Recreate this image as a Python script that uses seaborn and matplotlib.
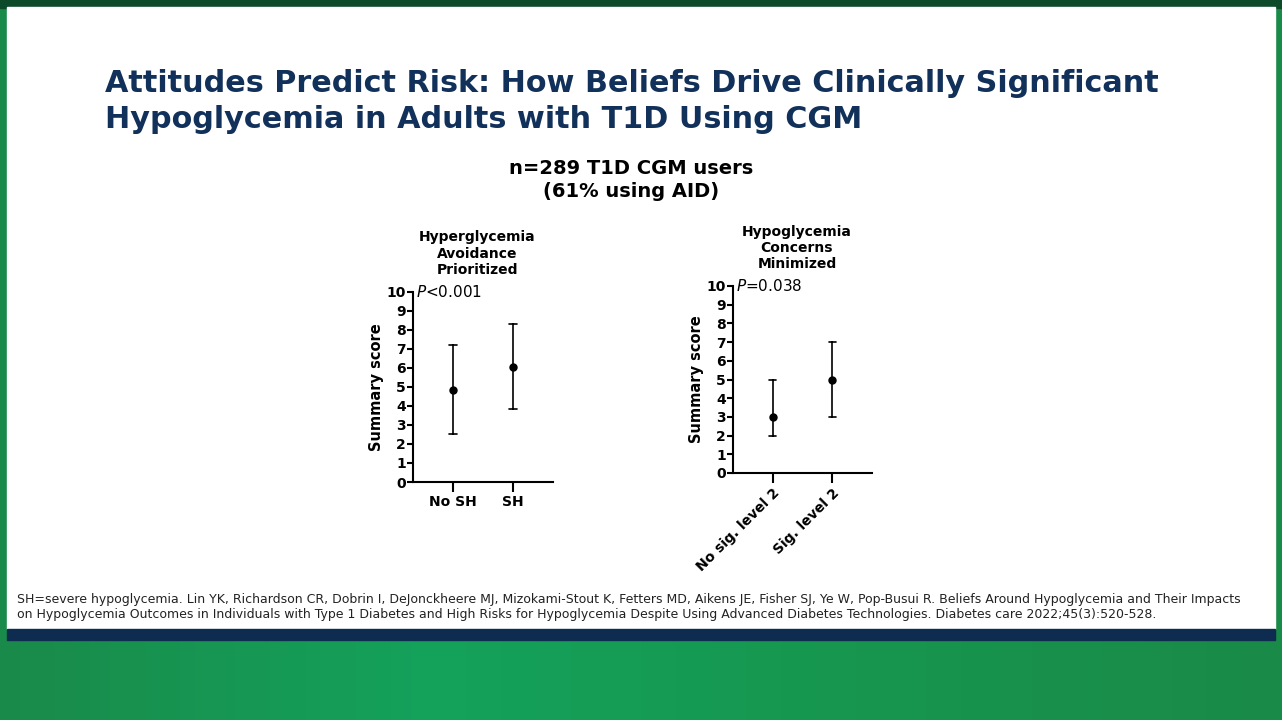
import numpy as np
import pandas as pd
import matplotlib.pyplot as plt
import seaborn as sns
from matplotlib.patches import Rectangle
from matplotlib.colors import LinearSegmentedColormap

# values: median point with min-max whiskers
left_groups = ["No SH", "SH"]
left_low = [2.55, 3.85]
left_mid = [4.85, 6.05]
left_high = [7.2, 8.3]

right_groups = ["No sig. level 2", "Sig. level 2"]
right_low = [2.0, 3.0]
right_mid = [3.0, 5.0]
right_high = [5.0, 7.0]

yticks = list(range(0, 11))

title = ("Attitudes Predict Risk: How Beliefs Drive Clinically Significant\n"
         "Hypoglycemia in Adults with T1D Using CGM")
subtitle = "n=289 T1D CGM users\n(61% using AID)"
footnote = ("SH=severe hypoglycemia. Lin YK, Richardson CR, Dobrin I, DeJonckheere MJ, Mizokami-Stout K, "
            "Fetters MD, Aikens JE, Fisher SJ, Ye W, Pop-Busui R. Beliefs Around Hypoglycemia and Their Impacts\n"
            "on Hypoglycemia Outcomes in Individuals with Type 1 Diabetes and High Risks for Hypoglycemia "
            "Despite Using Advanced Diabetes Technologies. Diabetes care 2022;45(3):520-528.")

sns.set_style("white")
plt.rcParams['font.family'] = ['DejaVu Sans']
plt.rcParams['text.color'] = 'black'
plt.rcParams['xtick.color'] = 'black'
plt.rcParams['ytick.color'] = 'black'
plt.rcParams['axes.labelcolor'] = 'black'

NAVY = "#11305a"


def long_df(groups, low, mid, high):
    scores = np.column_stack([low, mid, high]).ravel()
    return pd.DataFrame({"group": np.repeat(groups, 3), "score": scores})


fig = plt.figure(figsize=(12.82, 7.2), dpi=100)

# slide background
bg = fig.add_axes([0, 0, 1, 1], zorder=-5)
grad = LinearSegmentedColormap.from_list("g", ["#1a8a4a", "#14a25b", "#17964f", "#1a8a48"])
bg.imshow(np.linspace(0, 1, 256)[None, :], aspect="auto", cmap=grad,
          extent=[0, 1, 0, 1], transform=bg.transAxes)
bg.add_patch(Rectangle((0, 1 - 8 / 720), 1, 8 / 720, color="#0d4a2a", transform=bg.transAxes))
bg.add_patch(Rectangle((7 / 1282, 1 - 629 / 720), 1268 / 1282, 622 / 720,
                       color="white", transform=bg.transAxes))
bg.add_patch(Rectangle((7 / 1282, 1 - 640 / 720), 1268 / 1282, 11 / 720,
                       color="#0e2c4f", transform=bg.transAxes))
bg.set_xlim(0, 1)
bg.set_ylim(0, 1)
bg.axis("off")

fig.text(105 / 1282, 1 - 69 / 720, title, ha="left", va="top", fontsize=21.8,
         fontweight="bold", color=NAVY, linespacing=1.3)
fig.text(631 / 1282, 1 - 180 / 720, subtitle, ha="center", va="center", fontsize=14,
         fontweight="bold", color="black", linespacing=1.3)
fig.text(17 / 1282, 1 - 607 / 720, footnote, ha="left", va="center", fontsize=9,
         color="#222222", linespacing=1.12)

panels = [
    ([413 / 1282, 1 - 482 / 720, 140 / 1282, 190 / 720], left_groups, left_low, left_mid, left_high,
     "Hyperglycemia\nAvoidance\nPrioritized", "<0.001", 0),
    ([733 / 1282, 1 - 473 / 720, 139 / 1282, 187 / 720], right_groups, right_low, right_mid, right_high,
     "Hypoglycemia\nConcerns\nMinimized", "=0.038", 45),
]

for rect, groups, low, mid, high, ptitle, pval, rot in panels:
    ax = fig.add_axes(rect)
    ax.set_facecolor("none")
    df = long_df(groups, low, mid, high)
    sns.pointplot(data=df, x="group", y="score", estimator="median", errorbar=("pi", 100),
                  color="black", linestyle="none", marker="o", markersize=4,
                  capsize=0.12, err_kws={"linewidth": 1.2}, ax=ax)
    ax.set_xlim(-0.667, 1.667)
    ax.set_ylim(0, 10)
    ax.set_yticks(yticks)
    ax.set_yticklabels([str(t) for t in yticks], fontsize=10, fontweight="bold")
    if rot:
        ax.set_xticklabels(groups, rotation=rot, ha="right", rotation_mode="anchor",
                           fontsize=10, fontweight="bold")
    else:
        ax.set_xticklabels(groups, fontsize=10, fontweight="bold")
    ax.set_xlabel("")
    ax.set_ylabel("Summary score", fontsize=10.5, fontweight="bold", labelpad=2)
    for s in ["top", "right"]:
        ax.spines[s].set_visible(False)
    for s in ["left", "bottom"]:
        ax.spines[s].set_linewidth(1.5)
        ax.spines[s].set_color("black")
    ax.tick_params(axis="y", length=4, width=1.5, pad=1, left=True)
    ax.tick_params(axis="x", length=7, width=1.5, pad=2, bottom=True)
    ax.text(0.46, 1.08, ptitle, transform=ax.transAxes, ha="center", va="bottom",
            fontsize=10, fontweight="bold", linespacing=1.2)
    ax.text(0.02, 1.0, r"$\it{P}$" + pval, transform=ax.transAxes, ha="left", va="center",
            fontsize=11)

fig.savefig("out.png", dpi=100)
